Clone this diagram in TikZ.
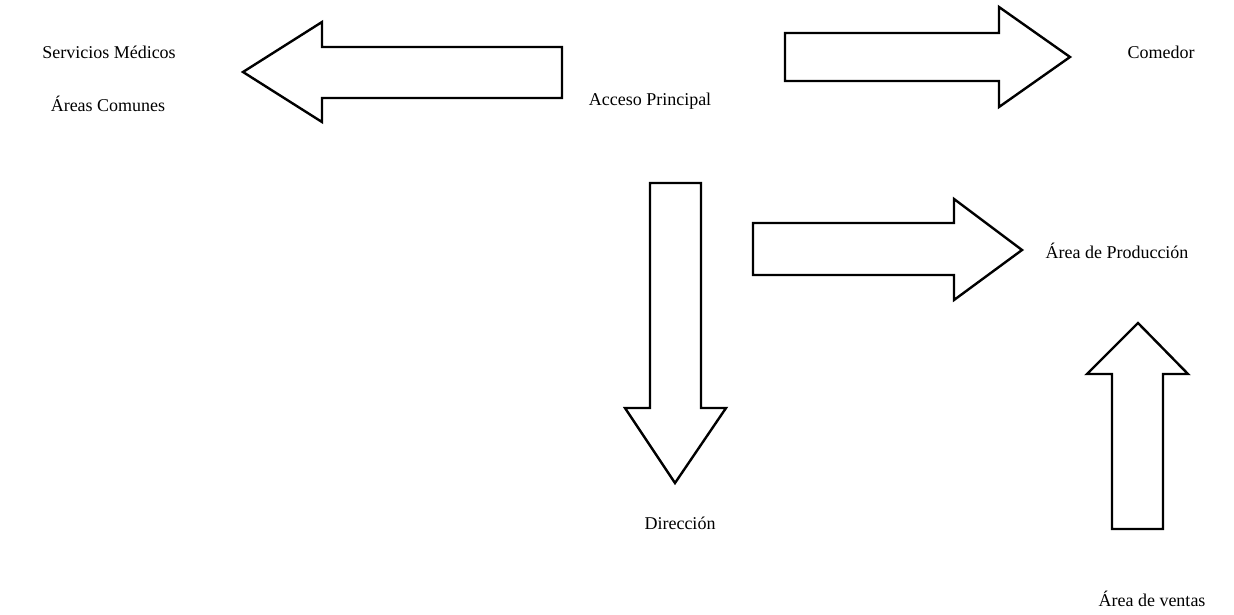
\documentclass[tikz,border=0pt]{standalone}
\usepackage{fontspec}
\setmainfont{Liberation Serif}
\begin{document}
\begin{tikzpicture}[x=1pt,y=-1pt,
  lbl/.style={font=\fontsize{18}{21}\selectfont, inner sep=0pt},
  blockarrow/.style={draw=black, line width=2.4pt, line join=miter, fill=white}]
\useasboundingbox (0,0) rectangle (1234,614);
% labels
\node[lbl] (med)  at (109,52)  {Servicios Médicos};
\node[lbl] (com)  at (108,104) {Áreas Comunes};
\node[lbl] (acc)  at (650,101) {Acceso Principal};
\node[lbl] (come) at (1161,52) {Comedor};
\node[lbl] (prod) at (1117,251) {Área de Producción};
\node[lbl] (dir)  at (680,523) {Dirección};
\node[lbl] (vent) at (1152,599) {Área de ventas};
% block arrows
\draw[blockarrow] (562,47) -- (322,47) -- (322,22) -- (243,72) -- (322,122) -- (322,98) -- (562,98) -- cycle;
\draw[blockarrow] (785,33) -- (999,33) -- (999,7) -- (1070,57) -- (999,107) -- (999,81) -- (785,81) -- cycle;
\draw[blockarrow] (650,183) -- (701,183) -- (701,408) -- (726,408) -- (675,483) -- (625,408) -- (650,408) -- cycle;
\draw[blockarrow] (753,223) -- (954,223) -- (954,199) -- (1022,250) -- (954,300) -- (954,275) -- (753,275) -- cycle;
\draw[blockarrow] (1112,529) -- (1112,374) -- (1087,374) -- (1138,323) -- (1188,374) -- (1163,374) -- (1163,529) -- cycle;
\end{tikzpicture}
\end{document}
